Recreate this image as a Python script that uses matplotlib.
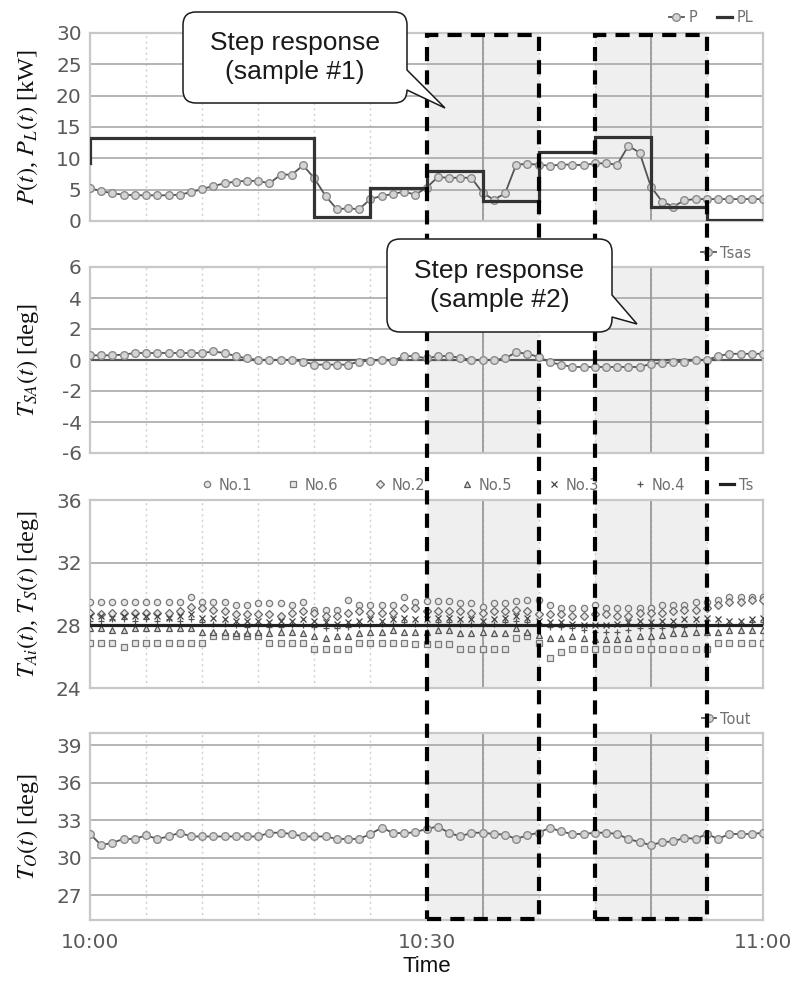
import matplotlib
matplotlib.use("Agg")
import matplotlib.pyplot as plt
from matplotlib.path import Path
from matplotlib.patches import PathPatch, Rectangle
from matplotlib import transforms
from matplotlib.ticker import MultipleLocator

# ---------------- data (minutes after 10:00) ----------------
minutes = list(range(61))

P = [5.2, 4.8, 4.4, 4.2, 4.1, 4.1, 4.1, 4.1, 4.2, 4.6,
     5.1, 5.6, 6.0, 6.3, 6.4, 6.4, 6.0, 7.4, 7.4, 8.9,
     6.8, 4.0, 1.9, 2.0, 1.9, 3.5, 4.0, 4.3, 4.7, 4.2,
     5.3, 7.0, 6.9, 6.9, 6.9, 4.5, 3.4, 4.4, 9.0, 9.1,
     9.0, 8.8, 9.0, 9.0, 8.9, 9.2, 9.2, 9.0, 12.0, 10.9,
     5.5, 3.1, 2.3, 3.3, 3.5, 3.5, 3.5, 3.5, 3.5, 3.5, 3.5]

PL_t = [0, 0, 20, 25, 30, 35, 40, 45, 50, 55, 60]
PL_v = [9.3, 13.3, 0.6, 5.3, 7.9, 3.2, 11.0, 13.4, 2.2, 0.2, 0.2]

Tsas = [0.3, 0.3, 0.3, 0.35, 0.45, 0.45, 0.45, 0.45, 0.45, 0.45,
        0.45, 0.55, 0.45, 0.25, 0.1, 0.0, 0.0, 0.0, 0.0, -0.1,
        -0.3, -0.3, -0.3, -0.3, -0.1, -0.05, 0.0, -0.05, 0.25, 0.25,
        0.1, 0.25, 0.25, 0.15, 0.0, 0.0, 0.0, 0.1, 0.5, 0.4,
        0.2, -0.15, -0.3, -0.45, -0.45, -0.45, -0.45, -0.45, -0.45, -0.45,
        -0.25, -0.2, -0.15, -0.1, 0.0, 0.0, 0.25, 0.4, 0.4, 0.4, 0.4]

No1 = [29.5, 29.5, 29.5, 29.5, 29.5, 29.5, 29.5, 29.5, 29.5, 29.8,
       29.5, 29.5, 29.5, 29.3, 29.3, 29.4, 29.4, 29.4, 29.3, 29.5,
       29.0, 29.0, 29.0, 29.6, 29.3, 29.3, 29.3, 29.3, 29.8, 29.5,
       29.55, 29.55, 29.55, 29.4, 29.4, 29.2, 29.4, 29.4, 29.55, 29.6,
       29.6, 29.3, 29.1, 29.1, 29.1, 29.3, 29.1, 29.1, 29.1, 29.1,
       29.1, 29.3, 29.3, 29.3, 29.5, 29.5, 29.6, 29.8, 29.8, 29.8, 29.8]
No6 = [26.9, 26.9, 26.9, 26.6, 26.9, 26.9, 26.9, 26.9, 26.9, 26.9,
       26.9, 27.3, 27.3, 27.3, 27.3, 27.3, 26.9, 26.9, 26.9, 26.9,
       26.5, 26.5, 26.5, 26.5, 26.9, 26.9, 26.9, 26.9, 26.9, 26.8,
       26.8, 26.8, 26.8, 26.5, 26.5, 26.5, 26.5, 26.5, 27.2, 27.3,
       26.9, 25.9, 26.3, 26.5, 26.5, 26.5, 26.5, 26.5, 26.5, 26.5,
       26.5, 26.5, 26.5, 26.5, 26.5, 26.5, 26.9, 26.9, 26.9, 26.9, 26.9]
No2 = [28.8, 28.7, 28.8, 28.8, 28.8, 28.8, 28.8, 28.8, 28.9, 29.2,
       29.1, 29.0, 28.9, 28.7, 28.7, 28.7, 28.7, 28.6, 28.8, 28.9,
       28.8, 28.6, 28.6, 28.8, 28.9, 28.8, 28.8, 28.8, 29.1, 29.1,
       28.9, 28.9, 28.9, 28.9, 28.8, 28.8, 28.9, 28.9, 29.0, 28.9,
       28.7, 28.7, 28.7, 28.6, 28.6, 28.7, 28.7, 28.6, 28.6, 28.8,
       28.8, 28.8, 28.9, 29.0, 29.0, 29.1, 29.3, 29.5, 29.5, 29.6, 29.6]
No5 = [27.8, 27.8, 27.7, 27.7, 27.8, 27.8, 27.8, 27.8, 27.8, 27.8,
       27.6, 27.6, 27.6, 27.5, 27.5, 27.6, 27.5, 27.6, 27.6, 27.5,
       27.3, 27.2, 27.3, 27.3, 27.5, 27.6, 27.6, 27.7, 27.6, 27.6,
       27.6, 27.7, 27.7, 27.5, 27.5, 27.6, 27.5, 27.5, 27.8, 27.6,
       27.4, 27.2, 27.2, 27.3, 27.2, 27.1, 27.1, 27.1, 27.2, 27.3,
       27.3, 27.4, 27.5, 27.5, 27.6, 27.6, 27.6, 27.7, 27.7, 27.7, 27.7]
No3 = [28.6, 28.6, 28.5, 28.6, 28.6, 28.6, 28.6, 28.5, 28.6, 28.7,
       28.5, 28.5, 28.4, 28.3, 28.3, 28.3, 28.2, 28.3, 28.3, 28.4,
       28.3, 28.2, 28.1, 28.2, 28.3, 28.4, 28.3, 28.4, 28.5, 28.4,
       28.4, 28.5, 28.5, 28.4, 28.4, 28.3, 28.4, 28.5, 28.6, 28.5,
       28.3, 28.2, 28.2, 28.1, 28.0, 28.0, 28.0, 28.1, 28.2, 28.3,
       28.2, 28.3, 28.3, 28.4, 28.4, 28.5, 28.4, 28.3, 28.3, 28.4, 28.5]
No4 = [28.3, 28.3, 28.4, 28.4, 28.3, 28.4, 28.3, 28.4, 28.3, 28.4,
       28.2, 28.1, 28.1, 28.0, 27.9, 28.0, 27.9, 27.9, 28.0, 28.0,
       27.9, 27.8, 27.8, 27.9, 28.0, 28.0, 28.1, 28.1, 28.2, 28.1,
       28.1, 28.2, 28.2, 28.1, 28.1, 28.0, 28.1, 28.2, 28.3, 28.2,
       28.0, 27.9, 27.9, 27.8, 27.7, 27.6, 27.6, 27.6, 27.7, 27.8,
       27.8, 27.8, 27.9, 27.9, 28.0, 28.0, 28.1, 28.1, 28.1, 28.2, 28.2]
Ts_t = [0, 60]
Ts_v = [28.0, 28.0]

Tout = [31.9, 31.0, 31.2, 31.5, 31.5, 31.8, 31.5, 31.7, 32.0, 31.7,
        31.7, 31.7, 31.7, 31.7, 31.7, 31.7, 32.0, 32.0, 31.9, 31.7,
        31.7, 31.7, 31.5, 31.5, 31.5, 31.9, 32.4, 32.0, 31.95, 32.05,
        32.3, 32.5, 32.0, 31.7, 32.0, 32.0, 31.9, 31.85, 31.5, 31.8,
        32.0, 32.4, 32.1, 31.9, 31.9, 32.0, 32.0, 31.9, 31.5, 31.25,
        31.0, 31.25, 31.3, 31.6, 31.5, 31.9, 31.5, 31.9, 31.9, 31.9, 32.0]

step_windows = [(30, 40), (45, 55)]
window_centres = [35, 50]
xtick_pos = [0, 30, 60]
xtick_labels = ["10:00", "10:30", "11:00"]
callout_texts = ["Step response\n(sample #1)", "Step response\n(sample #2)"]

# ---------------- figure ----------------
plt.rcParams["font.family"] = ["DejaVu Sans"]
plt.rcParams["mathtext.fontset"] = "stix"
plt.rcParams["axes.unicode_minus"] = False

W, H = 798, 983
fig = plt.figure(figsize=(W / 100, H / 100), dpi=100)


def rect(top, bottom, left=90, right=763):
    return [left / W, 1 - bottom / H, (right - left) / W, (bottom - top) / H]


def fx(x):
    return x / W


def fy(y):
    return 1 - y / H


ax1 = fig.add_axes(rect(33, 221))
ax2 = fig.add_axes(rect(267, 453))
ax3 = fig.add_axes(rect(500, 688))
ax4 = fig.add_axes(rect(733, 920))
axes = [ax1, ax2, ax3, ax4]

TICKC = "#5a5a5a"
LEGC = "#707070"


def style(ax, ylim, ystep):
    ax.set_xlim(0, 60)
    ax.set_ylim(*ylim)
    ax.yaxis.set_major_locator(MultipleLocator(ystep))
    ax.xaxis.set_major_locator(plt.FixedLocator(xtick_pos))
    ax.xaxis.set_minor_locator(MultipleLocator(5))
    ax.grid(True, axis="y", which="major", color="#a8a8a8", lw=1.2, zorder=1)
    ax.grid(True, axis="x", which="minor", color="#cfcfcf", lw=1.0,
            ls=(0, (1.5, 2.5)), zorder=1)
    ax.grid(False, axis="x", which="major")
    for s in ax.spines.values():
        s.set_color("#c8c8c8")
        s.set_linewidth(1.6)
    ax.tick_params(axis="both", which="both", length=0, labelsize=14.5,
                   labelcolor=TICKC, pad=6)
    ax.tick_params(axis="x", pad=9)
    for a, b in step_windows:
        ax.axvspan(a, b, color="#efefef", zorder=0.5, lw=0)
    for c in window_centres:
        ax.axvline(c, color="#9a9a9a", lw=1.3, zorder=1.2)
    ax.set_axisbelow(True)


style(ax1, (0, 30), 5)
style(ax2, (-6, 6), 2)
style(ax3, (24, 36), 4)
style(ax4, (25, 40), 3)
ax4.set_yticks([27, 30, 33, 36, 39])
for ax in axes[:-1]:
    ax.set_xticklabels([])
ax4.set_xticklabels(xtick_labels)

line_kw = dict(color="#555555", lw=1.3, marker="o", ms=5.5, mfc="#d4d4d4",
               mec="#8a8a8a", mew=1.0, zorder=4)

# panel 1
ax1.plot(minutes, P, label="P", **line_kw)
ax1.plot(PL_t, PL_v, drawstyle="steps-post", color="#333333", lw=2.3,
         label="PL", zorder=5, solid_joinstyle="miter")

# panel 2
ax2.axhline(0, color="#555555", lw=1.6, zorder=2)
ax2.plot(minutes, Tsas, label="Tsas", **line_kw)

# panel 3
mk = dict(ls="none", ms=4.5, mew=0.9, zorder=4)
ax3.plot(minutes, No1, marker="o", mfc="#e6e6e6", mec="#7a7a7a", label="No.1", **mk)
ax3.plot(minutes, No6, marker="s", mfc="#e6e6e6", mec="#7a7a7a", label="No.6", **mk)
ax3.plot(minutes, No2, marker="D", mfc="#e6e6e6", mec="#6a6a6a", label="No.2", **mk)
ax3.plot(minutes, No5, marker="^", mfc="#dddddd", mec="#555555", label="No.5", **mk)
ax3.plot(minutes, No3, marker="x", color="#444444", label="No.3", **mk)
ax3.plot(minutes, No4, marker="+", color="#555555", label="No.4", **mk)
ax3.plot(Ts_t, Ts_v, color="#222222", lw=2.3, label="Ts", zorder=5)

# panel 4
ax4.plot(minutes, Tout, label="Tout", **line_kw)

# legends
leg_kw = dict(frameon=False, fontsize=10.5, labelcolor=LEGC, borderpad=0,
              borderaxespad=0, handlelength=1.0, handletextpad=0.3,
              loc="center right", bbox_transform=fig.transFigure)
ax1.legend(ncol=2, columnspacing=1.4, bbox_to_anchor=(fx(753), fy(18)), **leg_kw)
ax2.legend(bbox_to_anchor=(fx(751), fy(253)), **leg_kw)
ax3.legend(ncol=7, columnspacing=2.35, bbox_to_anchor=(fx(753), fy(485)), **leg_kw)
ax4.legend(bbox_to_anchor=(fx(751), fy(719)), **leg_kw)

# y labels
ylab_kw = dict(fontsize=17.5, family="Liberation Serif", color="#111111", va="center")
ax1.set_ylabel(r"$P(t)$, $P_L(t)$ [kW]", **ylab_kw)
ax2.set_ylabel(r"$T_{SA}(t)$ [deg]", **ylab_kw)
ax3.set_ylabel(r"$T_{Ai}(t)$, $T_S(t)$ [deg]", **ylab_kw)
ax4.set_ylabel(r"$T_O(t)$ [deg]", **ylab_kw)
for ax in axes:
    ax.yaxis.set_label_coords((28 - 90) / 673, 0.5)

ax4.set_xlabel("Time", fontsize=16, family="Liberation Sans", color="#111111",
               labelpad=3)

# dashed rectangles spanning all panels
blend = transforms.blended_transform_factory(ax1.transData, fig.transFigure)
y_top, y_bot = fy(35), fy(919)
for a, b in step_windows:
    r = Rectangle((a, y_bot), b - a, y_top - y_bot, transform=blend, fill=False,
                  ec="black", lw=3.0, ls=(0, (3.4, 2.2)), clip_on=False,
                  zorder=20)
    fig.add_artist(r)


# callouts
def callout(x0, y0, x1, y1, r, bt, bb, tip, text, fs=19):
    pts = [
        ((x0 + r, y0), Path.MOVETO),
        ((x1 - r, y0), Path.LINETO),
        ((x1, y0), Path.CURVE3), ((x1, y0 + r), Path.CURVE3),
        ((x1, bt), Path.LINETO),
        (tip, Path.LINETO),
        ((x1, bb), Path.LINETO),
        ((x1, y1 - r), Path.LINETO),
        ((x1, y1), Path.CURVE3), ((x1 - r, y1), Path.CURVE3),
        ((x0 + r, y1), Path.LINETO),
        ((x0, y1), Path.CURVE3), ((x0, y1 - r), Path.CURVE3),
        ((x0, y0 + r), Path.LINETO),
        ((x0, y0), Path.CURVE3), ((x0 + r, y0), Path.CURVE3),
        ((x0 + r, y0), Path.CLOSEPOLY),
    ]
    verts = [(fx(p[0]), fy(p[1])) for p, _ in pts]
    codes = [c for _, c in pts]
    patch = PathPatch(Path(verts, codes), transform=fig.transFigure,
                      fc="white", ec="#1a1a1a", lw=1.1, zorder=30)
    fig.add_artist(patch)
    fig.text(fx((x0 + x1) / 2), fy((y0 + y1) / 2), text, ha="center",
             va="center", fontsize=fs, family="Liberation Sans",
             color="#1a1a1a", linespacing=1.25, zorder=31)


callout(183, 12, 407, 103, 13, 70, 90, (445, 108), callout_texts[0])
callout(387, 239, 612, 332, 13, 295, 317, (637, 324), callout_texts[1])

fig.savefig("out.png", dpi=100)
